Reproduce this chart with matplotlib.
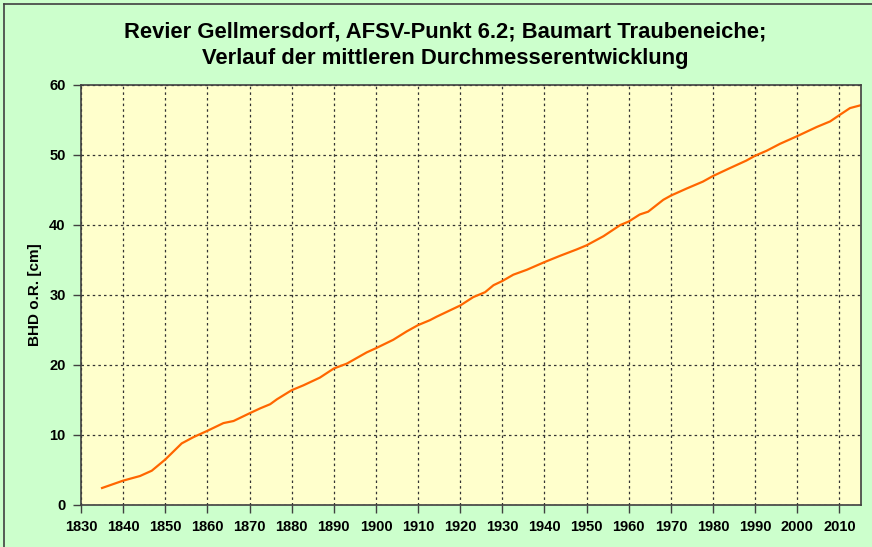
import matplotlib.pyplot as plt
from matplotlib.lines import Line2D

plt.rcParams['font.family'] = ['Liberation Sans', 'DejaVu Sans']

# Jahr / mittlerer BHD [cm]
years = [1835.0, 1840.0, 1844.0, 1846.8, 1848.4, 1850.0, 1853.9, 1856.7, 1860.0,
         1863.8, 1866.2, 1870.0, 1872.5, 1874.9, 1876.5, 1880.0, 1882.8, 1886.7,
         1890.0, 1893.1, 1897.8, 1900.0, 1904.1, 1907.3, 1910.0, 1912.8, 1914.4,
         1920.0, 1923.1, 1925.9, 1927.9, 1930.0, 1932.6, 1935.8, 1940.0, 1943.7,
         1947.6, 1950.0, 1954.0, 1958.0, 1960.0, 1962.6, 1964.6, 1968.2, 1970.0,
         1973.7, 1977.6, 1980.0, 1983.9, 1987.9, 1990.0, 1992.7, 1995.9, 2000.0,
         2004.6, 2007.8, 2010.0, 2012.5, 2015.0]
bhd = [2.43, 3.48, 4.14, 4.9, 5.7, 6.5, 8.8, 9.7, 10.6,
       11.7, 12.0, 13.1, 13.8, 14.4, 15.1, 16.4, 17.1, 18.2,
       19.5, 20.2, 21.8, 22.4, 23.6, 24.8, 25.7, 26.4, 26.9,
       28.5, 29.7, 30.4, 31.4, 32.0, 32.9, 33.6, 34.7, 35.6,
       36.5, 37.1, 38.4, 40.0, 40.5, 41.5, 41.9, 43.6, 44.2,
       45.2, 46.2, 47.0, 48.1, 49.2, 49.9, 50.6, 51.6, 52.7,
       54.0, 54.8, 55.7, 56.7, 57.1]

x_ticks = list(range(1830, 2011, 10))
y_ticks = list(range(0, 61, 10))

W, H = 872, 547
fig = plt.figure(figsize=(W / 100, H / 100), dpi=100, facecolor='#CCFFCC')
ax = fig.add_axes([81 / W, 1 - 505 / H, (860.5 - 81) / W, (505 - 85) / H])
ax.set_facecolor('#FFFFCC')

ax.plot(years, bhd, color='#FF6600', linewidth=1.6)

ax.set_xlim(1830, 2015)
ax.set_ylim(0, 60)
ax.set_xticks(x_ticks)
ax.set_yticks(y_ticks)
ax.tick_params(direction='out', length=6, width=1, color='#404040',
               labelsize=10.5, pad=5)
for lab in ax.get_xticklabels() + ax.get_yticklabels():
    lab.set_fontweight('bold')

ax.grid(True, color='#333333', linestyle=(0, (2, 2.5)), linewidth=0.9)
for s in ax.spines.values():
    s.set_color('#404040')
    s.set_linewidth(1.2)

ax.set_ylabel('BHD o.R. [cm]', fontsize=11, fontweight='bold')
ax.yaxis.set_label_coords(-(81 - 42) / (860.5 - 81), 0.5)

fig.text(445 / W, 1 - 45 / H,
         'Revier Gellmersdorf, AFSV-Punkt 6.2; Baumart Traubeneiche;\n'
         'Verlauf der mittleren Durchmesserentwicklung',
         ha='center', va='center', fontsize=15.8, fontweight='bold',
         linespacing=1.32)

# Rahmen oben/links
fig.add_artist(Line2D([3.5 / W, 3.5 / W], [0, 1 - 4 / H], color='#404040', lw=1.2))
fig.add_artist(Line2D([3.5 / W, 1], [1 - 4 / H, 1 - 4 / H], color='#404040', lw=1.2))

fig.savefig('out.png', dpi=100, facecolor=fig.get_facecolor())
